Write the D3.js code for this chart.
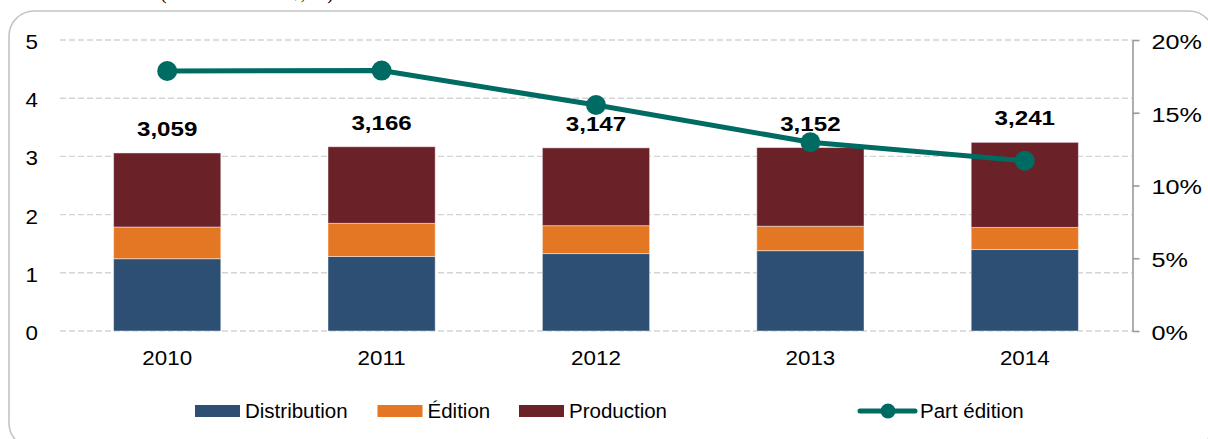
<!DOCTYPE html>
<html>
<head>
<meta charset="utf-8">
<script src="https://cdn.jsdelivr.net/npm/d3@7"></script>
<style>
  html, body { margin: 0; padding: 0; background: #fff; }
  svg { display: block; font-family: "Liberation Sans", Arial, sans-serif; }
  /* slightly widened numerals, scaled about their anchor side */
  .wide-l { transform-box: fill-box; transform-origin: left center; }
  .wide-r { transform-box: fill-box; transform-origin: right center; }
  .wide-c { transform-box: fill-box; transform-origin: center center; }
</style>
</head>
<body>
<svg id="chart" width="1208" height="439"></svg>
<script>
// Revenue by segment (billions) and publishing share, 2010–2014
const years = ["2010", "2011", "2012", "2013", "2014"];
const distribution = [1.242, 1.28, 1.33, 1.38, 1.40];
const edition = [0.545, 0.57, 0.48, 0.42, 0.38];
const production = [1.272, 1.316, 1.337, 1.352, 1.461];
const partEdition = [0.1787, 0.179, 0.1553, 0.1297, 0.117];
const leftTicks = [0, 1, 2, 3, 4, 5];
const rightTicks = [0, 0.05, 0.10, 0.15, 0.20];
const seriesNames = ["Distribution", "Édition", "Production"];
const lineName = "Part édition";
const caption = "(en milliards de $, %)";

const colors = {
  Distribution: "#2c4f73",
  "Édition": "#e47723",
  Production: "#6b2128"
};
const lineColor = "#006b63";

const svg = d3.select("#chart");

// frame with rounded corners
svg.append("rect")
  .attr("x", 9).attr("y", 11)
  .attr("width", 1205).attr("height", 437)
  .attr("rx", 25).attr("ry", 25)
  .attr("fill", "#fff")
  .attr("stroke", "#c4c4c4")
  .attr("stroke-width", 1.6);

// caption sitting above the frame
svg.append("text")
  .attr("x", 160).attr("y", -1)
  .attr("font-family", "Liberation Serif, serif")
  .attr("font-size", 20)
  .attr("fill", "#000")
  .text(caption);

const x = d3.scaleBand().domain(years).range([60, 1132])
  .paddingInner(0.5).paddingOuter(0.25);
const yL = d3.scaleLinear().domain([0, 5]).range([331, 40]);
const yR = d3.scaleLinear().domain([0, 0.20]).range([331, 40]);

// horizontal dashed gridlines
svg.append("g").selectAll("line").data(leftTicks).join("line")
  .attr("x1", 60).attr("x2", 1132)
  .attr("y1", d => yL(d)).attr("y2", d => yL(d))
  .attr("stroke", "#d4d4d4").attr("stroke-width", 1.4)
  .attr("stroke-dasharray", "6,3");

// left axis labels
const axL = svg.append("g").attr("transform", "translate(46,0)")
  .call(d3.axisLeft(yL).tickValues(leftTicks).tickSize(0).tickPadding(8).tickFormat(d3.format("d")));
axL.select(".domain").remove();
axL.selectAll("text")
  .attr("font-size", 20).attr("fill", "#000").attr("dy", "0.42em")
  .attr("font-family", "Liberation Sans, Arial, sans-serif")
  .attr("class", "wide-r").style("transform", "scaleX(1.12)");

// right axis
const axR = svg.append("g").attr("transform", "translate(1132.5,0)")
  .call(d3.axisRight(yR).tickValues(rightTicks).tickSize(7).tickSizeOuter(0).tickPadding(12)
    .tickFormat(d3.format(".0%")));
axR.select(".domain").attr("stroke", "#9a9a9a").attr("stroke-width", 1.6);
axR.selectAll(".tick line").attr("stroke", "#9a9a9a").attr("stroke-width", 1.6);
axR.selectAll("text")
  .attr("font-size", 21).attr("fill", "#000").attr("dy", "0.4em")
  .attr("font-family", "Liberation Sans, Arial, sans-serif")
  .attr("class", "wide-l").style("transform", "scaleX(1.2)");

// x axis labels
const axX = svg.append("g").attr("transform", "translate(0,331)")
  .call(d3.axisBottom(x).tickSize(0).tickPadding(20));
axX.select(".domain").remove();
axX.selectAll("text")
  .attr("font-size", 20).attr("fill", "#000")
  .attr("font-family", "Liberation Sans, Arial, sans-serif")
  .attr("class", "wide-c").style("transform", "scaleX(1.12)");

// stacked bars
const rows = years.map((yr, i) => ({
  year: yr,
  Distribution: distribution[i],
  "Édition": edition[i],
  Production: production[i]
}));
const stack = d3.stack().keys(seriesNames)(rows);

svg.append("g").selectAll("g").data(stack).join("g")
  .attr("fill", d => colors[d.key])
  .selectAll("rect").data(d => d).join("rect")
  .attr("x", d => x(d.data.year))
  .attr("width", x.bandwidth())
  .attr("y", d => yL(d[1]))
  .attr("height", d => yL(d[0]) - yL(d[1]))
  .attr("stroke", "rgba(255,255,255,0.45)")
  .attr("stroke-width", 1);

// totals above bars
const fmt = d3.format(",.0f");
svg.append("g").selectAll("text").data(rows).join("text")
  .attr("x", d => x(d.year) + x.bandwidth() / 2)
  .attr("y", d => yL(d.Distribution + d["Édition"] + d.Production) - 17)
  .attr("text-anchor", "middle")
  .attr("font-size", 21).attr("font-weight", "bold").attr("fill", "#000")
  .attr("class", "wide-c").style("transform", "scaleX(1.15)")
  .text(d => fmt((d.Distribution + d["Édition"] + d.Production) * 1000));

// publishing share line
const line = d3.line()
  .x((d, i) => x(years[i]) + x.bandwidth() / 2)
  .y(d => yR(d));
svg.append("path").datum(partEdition)
  .attr("d", line)
  .attr("fill", "none")
  .attr("stroke", lineColor)
  .attr("stroke-width", 5)
  .attr("stroke-linejoin", "round");
svg.append("g").selectAll("circle").data(partEdition).join("circle")
  .attr("cx", (d, i) => x(years[i]) + x.bandwidth() / 2)
  .attr("cy", d => yR(d))
  .attr("r", 10)
  .attr("fill", lineColor);

// legend
const legendY = 411;
const swatchX = [195, 377.5, 519];
const leg = svg.append("g");
seriesNames.forEach((name, i) => {
  leg.append("rect")
    .attr("x", swatchX[i]).attr("y", legendY - 6)
    .attr("width", 45).attr("height", 12)
    .attr("fill", colors[name]);
  leg.append("text")
    .attr("x", swatchX[i] + 50).attr("y", legendY + 7)
    .attr("font-size", 20.5).attr("fill", "#000")
    .text(name);
});
leg.append("line")
  .attr("x1", 860).attr("x2", 915)
  .attr("y1", legendY).attr("y2", legendY)
  .attr("stroke", lineColor).attr("stroke-width", 5)
  .attr("stroke-linecap", "round");
leg.append("circle")
  .attr("cx", 888).attr("cy", legendY).attr("r", 7.5)
  .attr("fill", lineColor);
leg.append("text")
  .attr("x", 920).attr("y", legendY + 7)
  .attr("font-size", 20.5).attr("fill", "#000")
  .text(lineName);
</script>
</body>
</html>
